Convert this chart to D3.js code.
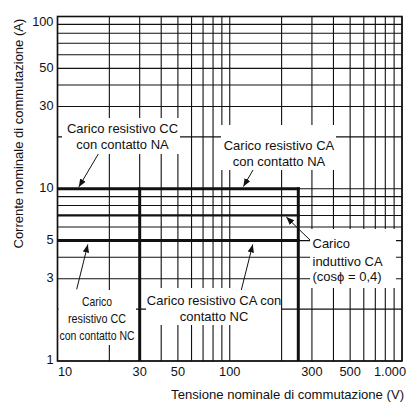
<!DOCTYPE html>
<html>
<head>
<meta charset="utf-8">
<script src="https://cdn.jsdelivr.net/npm/d3@7"></script>
<style>
  body { margin: 0; background: #fff; }
  svg { display: block; font-family: "Liberation Sans", Arial, Helvetica, sans-serif; }
</style>
</head>
<body>
<div id="chart"></div>
<script>
// axis ticks
const xTicks = [10, 30, 50, 100, 300, 500, 1000];
const xTickLabels = ['10', '30', '50', '100', '300', '500', '1.000'];
const yTicks = [1, 3, 5, 10, 30, 50, 100];
const yTickLabels = ['1', '3', '5', '10', '30', '50', '100'];

// grid lines (V and A)
const gridVolts = [10, 20, 30, 40, 50, 60, 70, 80, 90, 100, 200, 300, 400, 500, 600, 700, 800, 900, 1000];
const gridAmps = [1, 2, 3, 4, 5, 6, 7, 8, 9, 10, 20, 30, 40, 50, 60, 70, 80, 90, 100];

// switching limits
const limitAmps = [10, 7, 5];        // horizontal limits, from 10 V to 250 V
const limitVolts = [30, 250];        // vertical limits, from 1 A to 10 A
const limitVoltRange = [10, 250];
const limitAmpRange = [1, 10];

const width = 406;
const height = 403;

const svg = d3.select('#chart')
  .append('svg')
  .attr('width', width)
  .attr('height', height);

const x = d3.scaleLog().domain([10, 1000]).range([57.5, 402]);
const y = d3.scaleLog().domain([1, 100]).range([361, 16.5]);

// grid
svg.append('g')
  .selectAll('line')
  .data(gridVolts)
  .enter()
  .append('line')
  .attr('x1', d => x(d))
  .attr('x2', d => x(d))
  .attr('y1', y(1))
  .attr('y2', y(100))
  .attr('stroke', '#111')
  .attr('stroke-width', 1.1);

svg.append('g')
  .selectAll('line')
  .data(gridAmps)
  .enter()
  .append('line')
  .attr('x1', x(10))
  .attr('x2', x(1000))
  .attr('y1', d => y(d))
  .attr('y2', d => y(d))
  .attr('stroke', '#111')
  .attr('stroke-width', 1.1);

// label boxes (mask the grid), then texts
const labels = [
  { lines: ['Carico resistivo CC', 'con contatto NA'], x: 122.5, y: [133, 148.7], anchor: 'middle', box: [62, 118, 118, 36] },
  { lines: ['Carico resistivo CA', 'con contatto NA'], x: 279, y: [149.6, 166.3], anchor: 'middle', box: [221, 125, 115, 45] },
  { lines: ['Carico', 'induttivo CA', '(cos\u03D5 = 0,4)'], x: 312.5, y: [248, 265.5, 281.3], anchor: 'start', box: [310, 229, 86, 59] },
  { lines: ['Carico', 'resistivo CC', 'con contatto NC'], x: 97, y: [306.3, 323, 339.6], anchor: 'middle', box: [58.5, 290, 77.5, 55], fit: [30, 58, 75] },
  { lines: ['Carico resistivo CA con', 'contatto NC'], x: 214, y: [304.6, 321.3], anchor: 'middle', box: [146, 288, 135, 37] }
];

const labelGroup = svg.append('g');
labels.forEach(l => {
  labelGroup.append('rect')
    .attr('x', l.box[0])
    .attr('y', l.box[1])
    .attr('width', l.box[2])
    .attr('height', l.box[3])
    .attr('fill', '#fff');
  l.lines.forEach((t, i) => {
    const txt = labelGroup.append('text')
      .attr('x', l.x)
      .attr('y', l.y[i])
      .attr('text-anchor', l.anchor)
      .attr('font-size', '13px')
      .attr('fill', '#111')
      .text(t);
    if (l.fit) {
      txt.attr('textLength', l.fit[i]).attr('lengthAdjust', 'spacingAndGlyphs');
    }
  });
});

// limit lines
svg.append('g')
  .selectAll('line')
  .data(limitAmps)
  .enter()
  .append('line')
  .attr('x1', x(limitVoltRange[0]))
  .attr('x2', x(limitVoltRange[1]) + 1.5)
  .attr('y1', d => y(d))
  .attr('y2', d => y(d))
  .attr('stroke', '#111')
  .attr('stroke-width', d => (d === 7 ? 2.2 : 3));

svg.append('g')
  .selectAll('line')
  .data(limitVolts)
  .enter()
  .append('line')
  .attr('x1', d => x(d))
  .attr('x2', d => x(d))
  .attr('y1', y(limitAmpRange[0]))
  .attr('y2', y(limitAmpRange[1]) - 1.5)
  .attr('stroke', '#111')
  .attr('stroke-width', 3);

// frame
svg.append('rect')
  .attr('x', x(10))
  .attr('y', y(100))
  .attr('width', x(1000) - x(10))
  .attr('height', y(1) - y(100))
  .attr('fill', 'none')
  .attr('stroke', '#111')
  .attr('stroke-width', 1.6);

// arrows: tail in px, tip in (V, A)
svg.append('defs')
  .append('marker')
  .attr('id', 'head')
  .attr('viewBox', '0 0 10 10')
  .attr('refX', 10)
  .attr('refY', 5)
  .attr('markerWidth', 8)
  .attr('markerHeight', 8)
  .attr('markerUnits', 'userSpaceOnUse')
  .attr('orient', 'auto')
  .append('path')
  .attr('d', 'M0,1 L10,5 L0,9 Z')
  .attr('fill', '#111');

const arrows = [
  { from: [98.3, 154], to: [13.3, 10.25] },
  { from: [253, 170], to: [120, 10.3] },
  { from: [310, 240], to: [213, 6.85] },
  { from: [76.7, 289.3], to: [15, 4.75] },
  { from: [241.3, 290], to: [136, 4.75] }
];

svg.append('g')
  .selectAll('line')
  .data(arrows)
  .enter()
  .append('line')
  .attr('x1', d => d.from[0])
  .attr('y1', d => d.from[1])
  .attr('x2', d => x(d.to[0]))
  .attr('y2', d => y(d.to[1]))
  .attr('stroke', '#111')
  .attr('stroke-width', 1)
  .attr('marker-end', 'url(#head)');

// tick labels
svg.append('g')
  .selectAll('text')
  .data(xTicks)
  .enter()
  .append('text')
  .attr('x', (d, i) => (i === 0 ? x(d) + 0.5 : i === xTicks.length - 1 ? x(d) + 4 : x(d)))
  .attr('y', 376)
  .attr('text-anchor', (d, i) => (i === 0 ? 'start' : i === xTicks.length - 1 ? 'end' : 'middle'))
  .attr('font-size', '12.8px')
  .attr('fill', '#111')
  .text((d, i) => xTickLabels[i]);

svg.append('g')
  .selectAll('text')
  .data(yTicks)
  .enter()
  .append('text')
  .attr('x', 53.5)
  .attr('y', (d, i) => (i === yTicks.length - 1 ? y(d) + 9.5 : y(d) + 3.3))
  .attr('text-anchor', 'end')
  .attr('font-size', '12.8px')
  .attr('fill', '#111')
  .text((d, i) => yTickLabels[i]);

// axis titles
svg.append('text')
  .attr('x', 404)
  .attr('y', 399)
  .attr('text-anchor', 'end')
  .attr('font-size', '13.1px')
  .attr('fill', '#111')
  .text('Tensione nominale di commutazione (V)');

svg.append('text')
  .attr('transform', 'translate(22.5,248.5) rotate(-90)')
  .attr('text-anchor', 'start')
  .attr('font-size', '13px')
  .attr('fill', '#111')
  .text('Corrente nominale di commutazione (A)');
</script>
</body>
</html>
